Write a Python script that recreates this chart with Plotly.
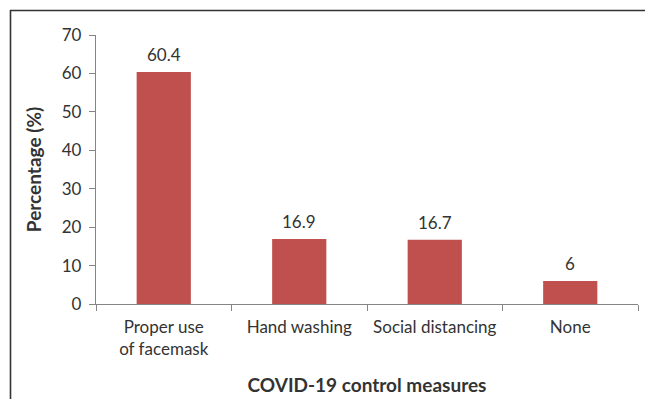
import plotly.graph_objects as go

# Survey results: reported COVID-19 control measures
categories = ["Proper use<br>of facemask", "Hand washing", "Social distancing", "None"]
percentages = [60.4, 16.9, 16.7, 6]
y_ticks = [0, 10, 20, 30, 40, 50, 60, 70]

BAR_COLOR = "#C0504D"
TEXT_COLOR = "#333333"
AXIS_COLOR = "#858585"
FONT = "Lato, Carlito, Calibri, sans-serif"

W, H = 645, 399
M_L, M_R, M_T, M_B = 96, 7, 35, 95

fig = go.Figure()
fig.add_trace(go.Bar(
    x=categories,
    y=percentages,
    marker=dict(color=BAR_COLOR, line=dict(width=0)),
    width=0.4,
    hoverinfo="x+y",
))

# value labels above each bar
for cat, val in zip(categories, percentages):
    fig.add_annotation(
        x=cat, y=val, text=f"{val:g}", showarrow=False,
        yanchor="bottom", yshift=5,
        font=dict(family=FONT, size=17, color=TEXT_COLOR),
    )

# frame lines along the top and left of the figure
pw = W - M_L - M_R
ph = H - M_T - M_B
def px_to_paper_x(px):
    return (px - M_L) / pw
def px_to_paper_y(py):
    return 1 - (py - M_T) / ph

fig.add_shape(type="line", xref="paper", yref="paper",
              x0=px_to_paper_x(10), x1=px_to_paper_x(W + 2),
              y0=px_to_paper_y(10.5), y1=px_to_paper_y(10.5),
              line=dict(color="#333333", width=1.6))
fig.add_shape(type="line", xref="paper", yref="paper",
              x0=px_to_paper_x(10.5), x1=px_to_paper_x(10.5),
              y0=px_to_paper_y(10), y1=px_to_paper_y(H + 2),
              line=dict(color="#333333", width=1.6))

fig.update_layout(
    width=W, height=H,
    margin=dict(l=M_L, r=M_R, t=M_T, b=M_B, autoexpand=False),
    paper_bgcolor="white", plot_bgcolor="white",
    showlegend=False,
    font=dict(family=FONT, size=17, color=TEXT_COLOR),
    bargap=0.6,
)

fig.update_xaxes(
    showline=True, linecolor=AXIS_COLOR, linewidth=1.3,
    ticks="outside", tickson="boundaries", ticklen=6, tickcolor=AXIS_COLOR, tickwidth=1.3,
    showgrid=False, zeroline=False,
    tickfont=dict(family=FONT, size=17, color=TEXT_COLOR),
    ticklabelstandoff=7,
    title=dict(text="<b>COVID-19 control measures</b>",
               font=dict(family=FONT, size=19, color=TEXT_COLOR), standoff=21),
    automargin=False,
)
fig.update_yaxes(
    range=[0, 70], tickvals=y_ticks,
    showline=True, linecolor=AXIS_COLOR, linewidth=1.3,
    ticks="outside", ticklen=6, tickcolor=AXIS_COLOR, tickwidth=1.3,
    showgrid=False, zeroline=False,
    tickfont=dict(family=FONT, size=17, color=TEXT_COLOR),
    ticklabelstandoff=4,
    title=dict(text="<b>Percentage (%)</b>",
               font=dict(family=FONT, size=19, color=TEXT_COLOR), standoff=15),
    automargin=False,
)

fig.write_html("out.html")
